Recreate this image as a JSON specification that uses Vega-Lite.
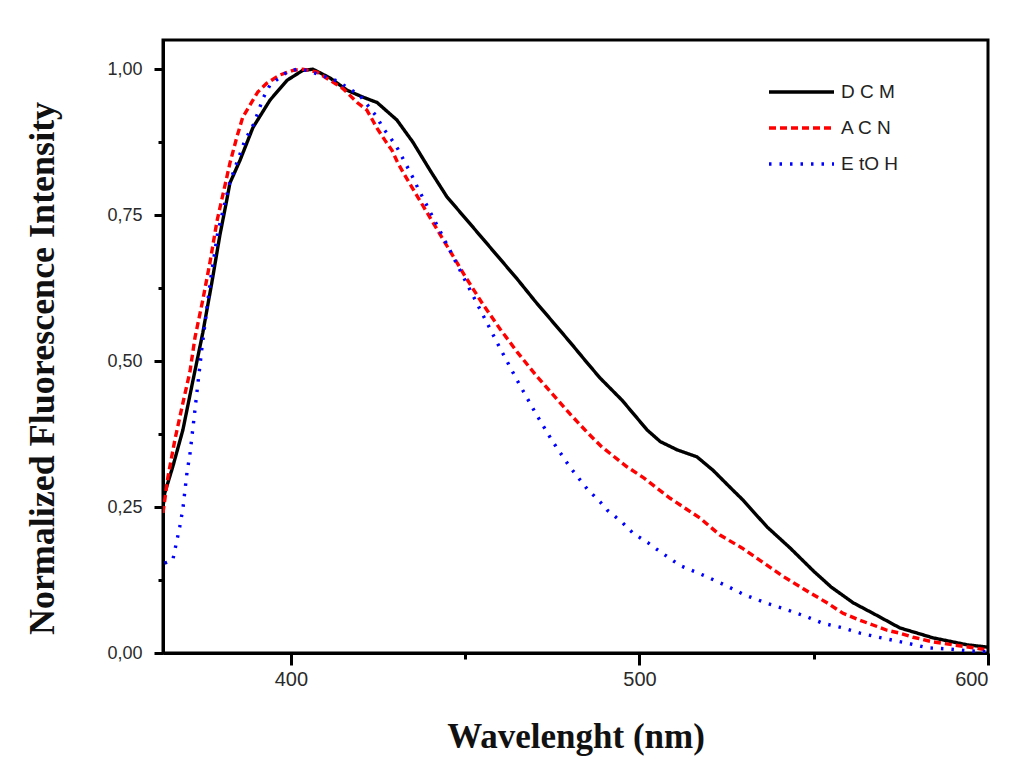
{
  "$schema": "https://vega.github.io/schema/vega-lite/v6.json",
  "width": 825,
  "height": 613,
  "autosize": {"type": "none"},
  "padding": {"left": 163, "top": 40, "right": 38, "bottom": 108},
  "background": "#ffffff",
  "config": {
    "view": {"stroke": "#000000", "strokeWidth": 3},
    "axis": {"grid": false, "domainColor": "#000000", "domainWidth": 3, "tickColor": "#000000", "tickWidth": 3, "labelFont": "Liberation Sans", "labelColor": "#2a2a2a", "titleFont": "Liberation Serif", "titleFontWeight": "bold", "titleColor": "#111111", "titleFontSize": 35},
    "legend": {"labelFont": "Liberation Sans", "labelFontSize": 19, "labelColor": "#222222", "symbolType": "stroke", "symbolSize": 4225, "symbolStrokeWidth": 3.5, "labelOffset": 5, "rowPadding": 2, "clipHeight": 34}
  },
  "data": {"values": [
    {"s":"DCM","x":363.3,"y":0.25},{"s":"DCM","x":363.8,"y":0.274},{"s":"DCM","x":366.1,"y":0.319},{"s":"DCM","x":369.0,"y":0.382},{"s":"DCM","x":371.9,"y":0.467},{"s":"DCM","x":374.7,"y":0.548},{"s":"DCM","x":377.3,"y":0.634},{"s":"DCM","x":379.6,"y":0.715},{"s":"DCM","x":381.6,"y":0.776},{"s":"DCM","x":382.5,"y":0.805},{"s":"DCM","x":385.4,"y":0.844},{"s":"DCM","x":389.1,"y":0.9},{"s":"DCM","x":394.0,"y":0.947},{"s":"DCM","x":398.9,"y":0.981},{"s":"DCM","x":403.4,"y":0.998},{"s":"DCM","x":406.3,"y":1.0},{"s":"DCM","x":411.2,"y":0.985},{"s":"DCM","x":416.1,"y":0.964},{"s":"DCM","x":420.7,"y":0.952},{"s":"DCM","x":424.7,"y":0.943},{"s":"DCM","x":430.4,"y":0.913},{"s":"DCM","x":435.0,"y":0.875},{"s":"DCM","x":439.9,"y":0.827},{"s":"DCM","x":444.8,"y":0.781},{"s":"DCM","x":450,"y":0.745},{"s":"DCM","x":455,"y":0.71},{"s":"DCM","x":460,"y":0.675},{"s":"DCM","x":465,"y":0.64},{"s":"DCM","x":470,"y":0.603},{"s":"DCM","x":475,"y":0.568},{"s":"DCM","x":480,"y":0.533},{"s":"DCM","x":485,"y":0.497},{"s":"DCM","x":488.7,"y":0.471},{"s":"DCM","x":495.0,"y":0.433},{"s":"DCM","x":502.2,"y":0.382},{"s":"DCM","x":506,"y":0.362},{"s":"DCM","x":510.8,"y":0.348},{"s":"DCM","x":516.5,"y":0.336},{"s":"DCM","x":521.1,"y":0.313},{"s":"DCM","x":526.8,"y":0.279},{"s":"DCM","x":529.7,"y":0.262},{"s":"DCM","x":536.6,"y":0.216},{"s":"DCM","x":543.2,"y":0.18},{"s":"DCM","x":550,"y":0.14},{"s":"DCM","x":555,"y":0.113},{"s":"DCM","x":561.3,"y":0.086},{"s":"DCM","x":567,"y":0.068},{"s":"DCM","x":574.7,"y":0.043},{"s":"DCM","x":584.2,"y":0.026},{"s":"DCM","x":594,"y":0.014},{"s":"DCM","x":600,"y":0.01},
    {"s":"ACN","x":363.3,"y":0.24},{"s":"ACN","x":364.7,"y":0.301},{"s":"ACN","x":366.7,"y":0.365},{"s":"ACN","x":369.0,"y":0.428},{"s":"ACN","x":371.0,"y":0.481},{"s":"ACN","x":372.5,"y":0.541},{"s":"ACN","x":374.7,"y":0.604},{"s":"ACN","x":376.8,"y":0.67},{"s":"ACN","x":378.8,"y":0.74},{"s":"ACN","x":382.5,"y":0.839},{"s":"ACN","x":384.5,"y":0.884},{"s":"ACN","x":386.2,"y":0.918},{"s":"ACN","x":389.1,"y":0.947},{"s":"ACN","x":390.5,"y":0.961},{"s":"ACN","x":393.1,"y":0.976},{"s":"ACN","x":396.8,"y":0.99},{"s":"ACN","x":400.6,"y":0.998},{"s":"ACN","x":403.4,"y":1.0},{"s":"ACN","x":407.5,"y":0.995},{"s":"ACN","x":411.2,"y":0.981},{"s":"ACN","x":414.9,"y":0.967},{"s":"ACN","x":419.0,"y":0.943},{"s":"ACN","x":421.8,"y":0.93},{"s":"ACN","x":424.7,"y":0.899},{"s":"ACN","x":427.0,"y":0.878},{"s":"ACN","x":429.0,"y":0.861},{"s":"ACN","x":430.7,"y":0.839},{"s":"ACN","x":432.7,"y":0.818},{"s":"ACN","x":434.7,"y":0.798},{"s":"ACN","x":436.4,"y":0.781},{"s":"ACN","x":440,"y":0.745},{"s":"ACN","x":445,"y":0.695},{"s":"ACN","x":450,"y":0.645},{"s":"ACN","x":455,"y":0.598},{"s":"ACN","x":460,"y":0.555},{"s":"ACN","x":465,"y":0.515},{"s":"ACN","x":470,"y":0.478},{"s":"ACN","x":475,"y":0.444},{"s":"ACN","x":480,"y":0.41},{"s":"ACN","x":485,"y":0.378},{"s":"ACN","x":489.2,"y":0.353},{"s":"ACN","x":496.4,"y":0.319},{"s":"ACN","x":501.0,"y":0.301},{"s":"ACN","x":508.8,"y":0.265},{"s":"ACN","x":517.4,"y":0.231},{"s":"ACN","x":523.1,"y":0.202},{"s":"ACN","x":529.4,"y":0.18},{"s":"ACN","x":535,"y":0.157},{"s":"ACN","x":541,"y":0.132},{"s":"ACN","x":547,"y":0.11},{"s":"ACN","x":553.8,"y":0.086},{"s":"ACN","x":558.4,"y":0.068},{"s":"ACN","x":563.3,"y":0.056},{"s":"ACN","x":567,"y":0.048},{"s":"ACN","x":571,"y":0.039},{"s":"ACN","x":574.7,"y":0.034},{"s":"ACN","x":578.5,"y":0.027},{"s":"ACN","x":584.2,"y":0.019},{"s":"ACN","x":590,"y":0.014},{"s":"ACN","x":595.7,"y":0.009},{"s":"ACN","x":600,"y":0.005},
    {"s":"EtOH","x":363.8,"y":0.154},{"s":"EtOH","x":366.1,"y":0.159},{"s":"EtOH","x":368.1,"y":0.216},{"s":"EtOH","x":369.0,"y":0.247},{"s":"EtOH","x":370.2,"y":0.31},{"s":"EtOH","x":371.0,"y":0.339},{"s":"EtOH","x":372.5,"y":0.418},{"s":"EtOH","x":373.0,"y":0.445},{"s":"EtOH","x":374.5,"y":0.524},{"s":"EtOH","x":377.0,"y":0.642},{"s":"EtOH","x":379.0,"y":0.72},{"s":"EtOH","x":382.5,"y":0.807},{"s":"EtOH","x":386.8,"y":0.878},{"s":"EtOH","x":389.4,"y":0.907},{"s":"EtOH","x":392.0,"y":0.95},{"s":"EtOH","x":394.0,"y":0.973},{"s":"EtOH","x":398.9,"y":0.995},{"s":"EtOH","x":401.7,"y":1.0},{"s":"EtOH","x":404.6,"y":0.998},{"s":"EtOH","x":413.2,"y":0.98},{"s":"EtOH","x":419.8,"y":0.955},{"s":"EtOH","x":422.7,"y":0.933},{"s":"EtOH","x":424.7,"y":0.918},{"s":"EtOH","x":426.4,"y":0.899},{"s":"EtOH","x":428.4,"y":0.884},{"s":"EtOH","x":430.7,"y":0.863},{"s":"EtOH","x":434.7,"y":0.818},{"s":"EtOH","x":436.7,"y":0.793},{"s":"EtOH","x":440,"y":0.755},{"s":"EtOH","x":445,"y":0.697},{"s":"EtOH","x":450,"y":0.638},{"s":"EtOH","x":455,"y":0.58},{"s":"EtOH","x":460,"y":0.522},{"s":"EtOH","x":465,"y":0.466},{"s":"EtOH","x":470,"y":0.413},{"s":"EtOH","x":475,"y":0.363},{"s":"EtOH","x":480,"y":0.319},{"s":"EtOH","x":485,"y":0.281},{"s":"EtOH","x":488.7,"y":0.259},{"s":"EtOH","x":490.7,"y":0.245},{"s":"EtOH","x":495.0,"y":0.224},{"s":"EtOH","x":498.2,"y":0.205},{"s":"EtOH","x":502.4,"y":0.189},{"s":"EtOH","x":504.4,"y":0.18},{"s":"EtOH","x":511.6,"y":0.15},{"s":"EtOH","x":518.8,"y":0.132},{"s":"EtOH","x":525,"y":0.115},{"s":"EtOH","x":530,"y":0.1},{"s":"EtOH","x":536.6,"y":0.085},{"s":"EtOH","x":540.9,"y":0.077},{"s":"EtOH","x":548.0,"y":0.062},{"s":"EtOH","x":552.6,"y":0.051},{"s":"EtOH","x":558.4,"y":0.043},{"s":"EtOH","x":563.3,"y":0.034},{"s":"EtOH","x":567,"y":0.029},{"s":"EtOH","x":571,"y":0.024},{"s":"EtOH","x":576.8,"y":0.017},{"s":"EtOH","x":582.5,"y":0.009},{"s":"EtOH","x":588.2,"y":0.007},{"s":"EtOH","x":594,"y":0.004},{"s":"EtOH","x":600,"y":0.002}
  ]},
  "layer": [
    {
      "mark": {"type": "line", "clip": true, "strokeWidth": 3.4},
      "encoding": {
        "x": {"field": "x", "type": "quantitative", "scale": {"domain": [363.3, 600], "nice": false, "zero": false},
          "axis": {"orient": "bottom", "values": [400, 500, 600], "tickSize": 12, "labelFontSize": 20, "labelPadding": 4, "title": "Wavelenght (nm)", "titleBaseline": "alphabetic", "titleY": 94}},
        "y": {"field": "y", "type": "quantitative", "scale": {"domain": [0, 1.05], "nice": false, "zero": false},
          "axis": {"orient": "left", "values": [0, 0.25, 0.5, 0.75, 1], "labelExpr": "replace(format(datum.value, '.2f'), '.', ',')", "tickSize": 9, "labelFontSize": 18, "labelPadding": 12, "title": "Normalized Fluorescence Intensity", "titleFontSize": 36, "titleAngle": 270, "titleBaseline": "alphabetic", "titleAlign": "center", "titleX": -110, "titleY": 328}},
        "color": {"field": "s", "type": "nominal", "scale": {"domain": ["DCM", "ACN", "EtOH"], "range": ["#000000", "#ff0000", "#0000ff"]},
          "legend": {"title": null, "orient": "none", "legendX": 604, "legendY": 35, "labelExpr": "datum.label == 'DCM' ? 'D C M' : datum.label == 'ACN' ? 'A C N' : 'E tO H'"}},
        "strokeDash": {"field": "s", "type": "nominal", "scale": {"domain": ["DCM", "ACN", "EtOH"], "range": [[1, 0], [7, 4], [2.5, 8]]},
          "legend": {"title": null, "orient": "none", "legendX": 604, "legendY": 35, "labelExpr": "datum.label == 'DCM' ? 'D C M' : datum.label == 'ACN' ? 'A C N' : 'E tO H'"}}
      }
    },
    {
      "mark": {"type": "point", "opacity": 0},
      "encoding": {
        "x": {"field": "x", "type": "quantitative", "axis": {"orient": "bottom", "values": [450, 550], "tickSize": 6, "labels": false, "domain": false, "title": null}},
        "y": {"field": "y", "type": "quantitative", "axis": {"orient": "left", "values": [0.125, 0.375, 0.625, 0.875], "tickSize": 5, "labels": false, "domain": false, "title": null}}
      }
    }
  ],
  "resolve": {"axis": {"x": "independent", "y": "independent"}}
}
